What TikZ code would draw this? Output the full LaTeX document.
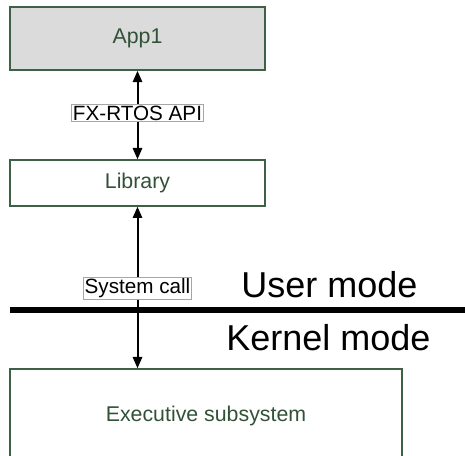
\documentclass[tikz,border=0pt]{standalone}
\usepackage{fontspec}
\setmainfont{Liberation Sans}
\usetikzlibrary{arrows.meta}
\definecolor{boxgreen}{RGB}{62,96,68}
\definecolor{textgreen}{RGB}{50,82,56}

\begin{document}
\begin{tikzpicture}[x=0.75pt,y=-0.75pt]
\useasboundingbox (0,0) rectangle (465,456);
\clip (0,0) rectangle (465,456);
\begin{scope}[every node/.style={rectangle,draw=boxgreen,line width=1.5pt,text=textgreen,font=\fontsize{16}{19}\selectfont,minimum width=191pt}]
    \node[fill = black!14, minimum height=47pt] (App1) at (137.5,38.5) {App1};
    \node[fill = white, minimum height=34pt] (Lib) at (137.5,183) {Library};
    \node[fill = white, minimum width=294pt, minimum height=70pt] (Exec) at (206,416) {Executive subsystem};
\end{scope}

\begin{scope}[every node/.style={fill=white,draw=black!35,line width=0.4pt,inner sep=1pt,font=\fontsize{15.5}{18}\selectfont}]
    \node (API) at (137.5,113) {FX-RTOS API};
    \node (Sys) at (137.5,288.5) {System call};
\end{scope}

\draw[line width=4.5pt] (10,310) -- (465,310);

\begin{scope}[>={Triangle[length=8.5pt,width=7pt]},line width=1.5pt]
    \draw [->] (API) -- (App1);
    \draw [->] (API) -- (Lib);
    \draw [->] (Sys) -- (Lib);
    \draw [->] (Sys) -- (Sys |- Exec.north);
\end{scope}

\node[font=\fontsize{27}{30}\selectfont] (User) at (329.5,285) {User mode};
\node[font=\fontsize{27}{30}\selectfont] (Kernel) at (328.5,338) {Kernel mode};
\end{tikzpicture}
\end{document}
